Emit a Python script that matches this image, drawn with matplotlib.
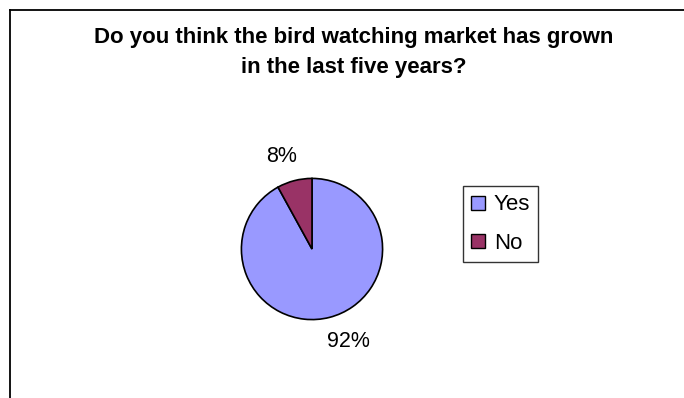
import matplotlib
matplotlib.use("Agg")
import matplotlib.pyplot as plt
from matplotlib.patches import Patch
from matplotlib.lines import Line2D

# survey answers (percent)
answers = ["Yes", "No"]
shares = [92, 8]
colours = ["#9999FF", "#993366"]
title_lines = ["Do you think the bird watching market has grown",
               "in the last five years?"]

plt.rcParams["font.family"] = ["Liberation Sans", "DejaVu Sans"]

W, H = 684, 398
fig = plt.figure(figsize=(W / 100, H / 100), dpi=100)
fig.patch.set_facecolor("white")

def px(x, y):
    # pixel position (from top-left) -> figure fraction
    return x / W, 1 - y / H

# chart area border (left and top edges only)
fig.add_artist(Line2D([10 / W, 10 / W], [0, 1 - 10 / H], color="black", lw=1.3,
                      transform=fig.transFigure))
fig.add_artist(Line2D([10 / W, 1], [1 - 10 / H, 1 - 10 / H], color="black", lw=1.3,
                      transform=fig.transFigure))

for line, y in zip(title_lines, [37, 68]):
    tx, ty = px(354, y)
    fig.text(tx, ty, line, ha="center", va="center", fontsize=16, fontweight="bold")

# pie, centred at about (312, 249) px with a 72 px radius
cx, cy, r = 312, 249, 72
ax = fig.add_axes([(cx - r) / W, (H - cy - r) / H, 2 * r / W, 2 * r / H])
wedges, _, pct = ax.pie(shares, colors=colours, startangle=90, counterclock=False,
                        autopct="%1.0f%%", pctdistance=1.38,
                        wedgeprops=dict(edgecolor="black", linewidth=1.2),
                        textprops=dict(fontsize=15.5))
# percentage labels sit a little off the wedge bisectors
pct[0].set_position((0.52, -1.31))
pct[1].set_position((-0.43, 1.31))
ax.set_xlim(-1.02, 1.02)
ax.set_ylim(-1.02, 1.02)
ax.set_aspect("equal")
ax.axis("off")

handles = [Patch(facecolor=c, edgecolor="black", linewidth=1.0) for c in colours]
lx, ly = px(463, 186)
leg = fig.legend(handles, answers, loc="upper left", bbox_to_anchor=(lx, ly),
                 fontsize=16, frameon=True, fancybox=False, shadow=False,
                 handlelength=0.6, handleheight=0.6, handletextpad=0.4,
                 borderpad=0.38, labelspacing=0.78, borderaxespad=0)
leg.get_frame().set_edgecolor("black")
leg.get_frame().set_linewidth(1.0)

fig.savefig("out.png", dpi=100, facecolor="white")
